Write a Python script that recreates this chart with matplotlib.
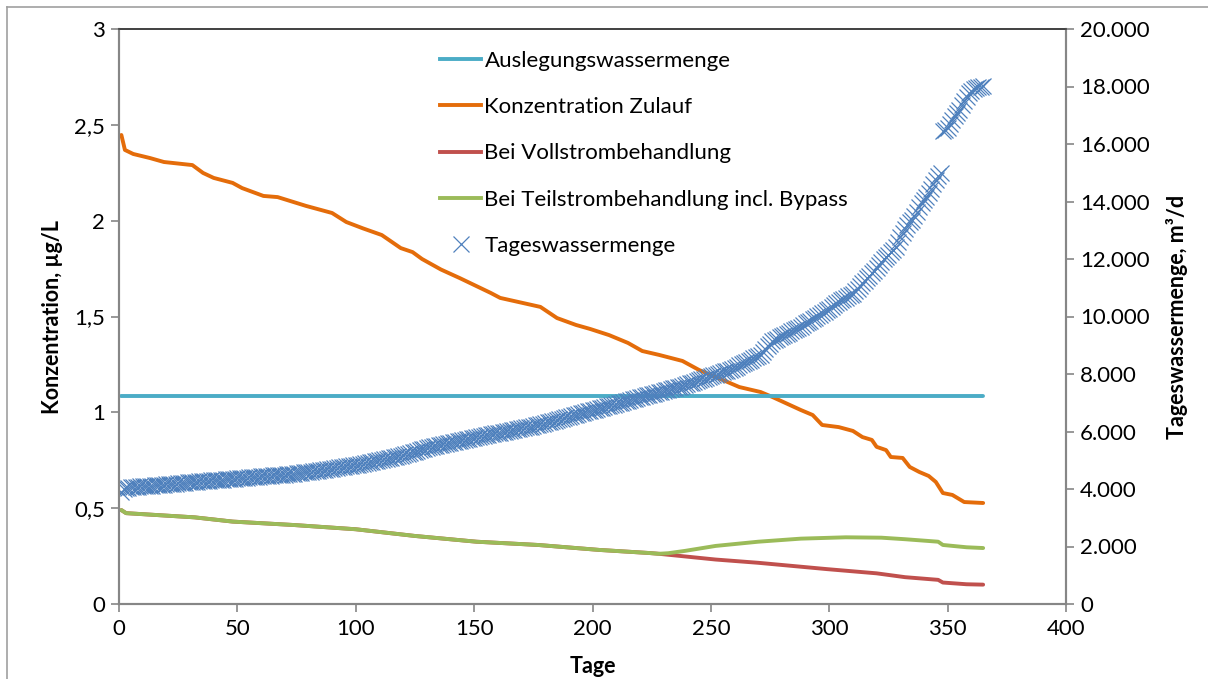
import matplotlib
matplotlib.use("Agg")
import matplotlib.pyplot as plt
from matplotlib.ticker import FuncFormatter, MultipleLocator
from matplotlib.lines import Line2D

plt.rcParams['font.family'] = ['Lato', 'DejaVu Sans']

# Tageswassermenge, sortiert, ein Wert je Tag (1..365), m3/d
tage = list(range(1, 366))
tageswassermenge = [
    3900, 4000, 4020, 4040, 4060, 4070, 4080, 4085, 4095, 4100,
    4105, 4110, 4115, 4120, 4128, 4134, 4140, 4145, 4150, 4158,
    4165, 4172, 4180, 4190, 4200, 4205, 4212, 4220, 4228, 4235,
    4240, 4248, 4255, 4262, 4270, 4276, 4283, 4290, 4298, 4305,
    4312, 4318, 4325, 4330, 4336, 4342, 4350, 4356, 4363, 4370,
    4377, 4384, 4390, 4397, 4404, 4410, 4417, 4424, 4430, 4437,
    4444, 4450, 4457, 4464, 4470, 4477, 4484, 4490, 4497, 4504,
    4510, 4517, 4525, 4535, 4545, 4555, 4565, 4575, 4585, 4596,
    4607, 4618, 4630, 4640, 4652, 4664, 4676, 4688, 4700, 4712,
    4724, 4736, 4748, 4760, 4772, 4785, 4798, 4810, 4822, 4835,
    4850, 4866, 4882, 4898, 4914, 4930, 4948, 4965, 4982, 5000,
    5018, 5036, 5054, 5072, 5090, 5108, 5126, 5144, 5162, 5180,
    5203, 5226, 5250, 5275, 5300, 5325, 5350, 5375, 5400, 5425,
    5450, 5468, 5486, 5503, 5520, 5538, 5556, 5574, 5592, 5610,
    5628, 5646, 5664, 5682, 5700, 5718, 5736, 5754, 5772, 5790,
    5805, 5820, 5836, 5852, 5868, 5884, 5900, 5916, 5932, 5948,
    5964, 5980, 5996, 6012, 6028, 6044, 6060, 6076, 6092, 6108,
    6124, 6140, 6155, 6170, 6190, 6210, 6230, 6250, 6270, 6292,
    6314, 6336, 6358, 6380, 6402, 6424, 6446, 6468, 6490, 6512,
    6535, 6558, 6582, 6606, 6630, 6652, 6674, 6696, 6718, 6740,
    6762, 6784, 6806, 6828, 6850, 6872, 6894, 6916, 6938, 6960,
    6982, 7005, 7028, 7052, 7076, 7100, 7122, 7144, 7166, 7188,
    7210, 7232, 7254, 7276, 7298, 7320, 7342, 7364, 7386, 7408,
    7430, 7452, 7474, 7496, 7518, 7540, 7560, 7588, 7616, 7644,
    7672, 7700, 7728, 7756, 7784, 7812, 7840, 7868, 7896, 7924,
    7952, 7980, 8008, 8036, 8064, 8092, 8120, 8140, 8180, 8220,
    8260, 8300, 8340, 8380, 8420, 8460, 8500, 8540, 8580, 8620,
    8650, 8760, 8860, 8960, 9060, 9150, 9190, 9230, 9280, 9320,
    9360, 9400, 9440, 9480, 9520, 9560, 9600, 9640, 9700, 9760,
    9810, 9860, 9910, 9960, 10010, 10060, 10110, 10160, 10210, 10270,
    10340, 10400, 10460, 10510, 10560, 10610, 10660, 10710, 10760, 10800,
    10880, 10970, 11060, 11150, 11240, 11330, 11420, 11500, 11600, 11700,
    11800, 11900, 12000, 12080, 12150, 12230, 12330, 12430, 12600, 12750,
    12900, 13050, 13200, 13300, 13360, 13500, 13650, 13800, 13950, 14060,
    14170, 14310, 14450, 14600, 14750, 14880, 15000, 16450, 16500, 16560,
    16700, 16850, 16960, 17070, 17200, 17350, 17500, 17630, 17760, 17850,
    17900, 17950, 17980, 18000, 18020,
]

# Auslegungswassermenge (konstant)
ausl_tage = [1, 365]
ausl_menge = [7250, 7250]

# Konzentration Zulauf, ug/L
zul_tage = [1, 2.5, 6, 13, 19, 31, 35.5, 40, 48, 52, 61, 67, 79, 90, 96, 103,
            111, 119, 124, 128, 136, 144, 157, 161, 178, 185, 193, 199, 207,
            215, 221, 228, 238, 245, 255, 262, 271, 276, 288, 293, 297, 304,
            310, 314, 318, 320, 324, 326, 331, 334, 338, 342, 345, 348, 352,
            357, 365]
zul_konz = [2.447, 2.369, 2.348, 2.327, 2.306, 2.29, 2.249, 2.223, 2.197, 2.17,
            2.129, 2.123, 2.077, 2.04, 1.993, 1.96, 1.925, 1.857, 1.836, 1.80,
            1.745, 1.70, 1.623, 1.597, 1.55, 1.492, 1.456, 1.435, 1.403, 1.362,
            1.32, 1.30, 1.268, 1.221, 1.169, 1.132, 1.106, 1.08, 1.012, 0.986,
            0.934, 0.923, 0.903, 0.871, 0.856, 0.82, 0.803, 0.767, 0.762, 0.715,
            0.689, 0.668, 0.637, 0.579, 0.569, 0.532, 0.527]

# Bei Vollstrombehandlung
voll_tage = [1, 3, 32, 48, 74, 100, 125, 151, 177, 203, 224, 228, 252, 270,
             299, 320, 332, 346, 348, 358, 365]
voll_konz = [0.49, 0.474, 0.452, 0.43, 0.412, 0.39, 0.355, 0.325, 0.308, 0.282,
             0.266, 0.262, 0.232, 0.215, 0.182, 0.16, 0.14, 0.126, 0.112,
             0.103, 0.101]

# Bei Teilstrombehandlung incl. Bypass
teil_tage = [1, 3, 32, 48, 74, 100, 125, 151, 177, 203, 224, 228, 232, 239,
             252, 270, 288, 307, 322, 332, 346, 348, 358, 365]
teil_konz = [0.49, 0.474, 0.452, 0.43, 0.412, 0.39, 0.355, 0.325, 0.308, 0.282,
             0.266, 0.262, 0.265, 0.277, 0.303, 0.325, 0.341, 0.348, 0.346,
             0.338, 0.325, 0.308, 0.296, 0.292]

fs = 16

fig = plt.figure(figsize=(12.08, 6.79), dpi=100)
ax1 = fig.add_axes([119 / 1208, 1 - 604 / 679, (1066 - 119) / 1208, (604 - 29) / 679])
ax2 = ax1.twinx()

lw = 2.8
ax1.plot(zul_tage, zul_konz, color='#E46C0A', lw=lw, solid_capstyle='round')
ax1.plot(voll_tage, voll_konz, color='#C0504D', lw=lw, solid_capstyle='round')
ax1.plot(teil_tage, teil_konz, color='#9BBB59', lw=lw, solid_capstyle='round')
ax2.plot(ausl_tage, ausl_menge, color='#4BACC6', lw=lw, solid_capstyle='round')
ax2.plot(tage, tageswassermenge, ls='none', marker='x', ms=11, mew=0.9,
         color='#4F81BD')

ax1.set_xlim(0, 400)
ax1.set_ylim(0, 3)
ax2.set_ylim(0, 20000)
ax1.xaxis.set_major_locator(MultipleLocator(50))
ax1.yaxis.set_major_locator(MultipleLocator(0.5))
ax2.yaxis.set_major_locator(MultipleLocator(2000))

ax1.yaxis.set_major_formatter(FuncFormatter(lambda v, p: f"{v:g}".replace('.', ',')))
ax2.yaxis.set_major_formatter(FuncFormatter(lambda v, p: f"{int(v):,}".replace(',', '.')))

grey = '#868686'
for ax in (ax1, ax2):
    for s in ('left', 'right', 'bottom'):
        ax.spines[s].set_color(grey)
        ax.spines[s].set_linewidth(1.5)
    ax.spines['top'].set_color('#404040')
    ax.spines['top'].set_linewidth(1.2)
    ax.tick_params(colors=grey, labelcolor='black', labelsize=fs, length=6,
                   width=1.2, direction='out')
ax1.tick_params(axis='x', pad=5)
ax1.tick_params(axis='y', pad=4)
ax2.tick_params(axis='y', pad=4)

ax1.set_xlabel('Tage', fontsize=fs - 0.5, fontweight='bold', labelpad=12)
ax1.set_ylabel('Konzentration, µg/L', fontsize=fs - 0.5, fontweight='bold', labelpad=8)
ax2.set_ylabel('Tageswassermenge, m³/d', fontsize=fs - 0.5, fontweight='bold', labelpad=12)

handles = [
    Line2D([], [], color='#4BACC6', lw=lw),
    Line2D([], [], color='#E46C0A', lw=lw),
    Line2D([], [], color='#C0504D', lw=lw),
    Line2D([], [], color='#9BBB59', lw=lw),
    Line2D([], [], ls='none', marker='x', ms=11, mew=0.9, color='#4F81BD'),
]
labels = ['Auslegungswassermenge', 'Konzentration Zulauf', 'Bei Vollstrombehandlung',
          'Bei Teilstrombehandlung incl. Bypass', 'Tageswassermenge']
fig.legend(handles, labels, loc='upper left', bbox_to_anchor=(440 / 1208, 1 - 51 / 679),
           frameon=False, fontsize=fs, handlelength=1.85, handletextpad=0.15,
           labelspacing=1.18, borderpad=0, borderaxespad=0)

# Rahmen des Diagrammbereichs
fig.add_artist(Line2D([7 / 1208, 1], [1 - 7 / 679, 1 - 7 / 679], color='#A0A0A0', lw=1.2))
fig.add_artist(Line2D([7 / 1208, 7 / 1208], [0, 1 - 7 / 679], color='#A0A0A0', lw=1.2))

fig.savefig('out.png', dpi=100)
